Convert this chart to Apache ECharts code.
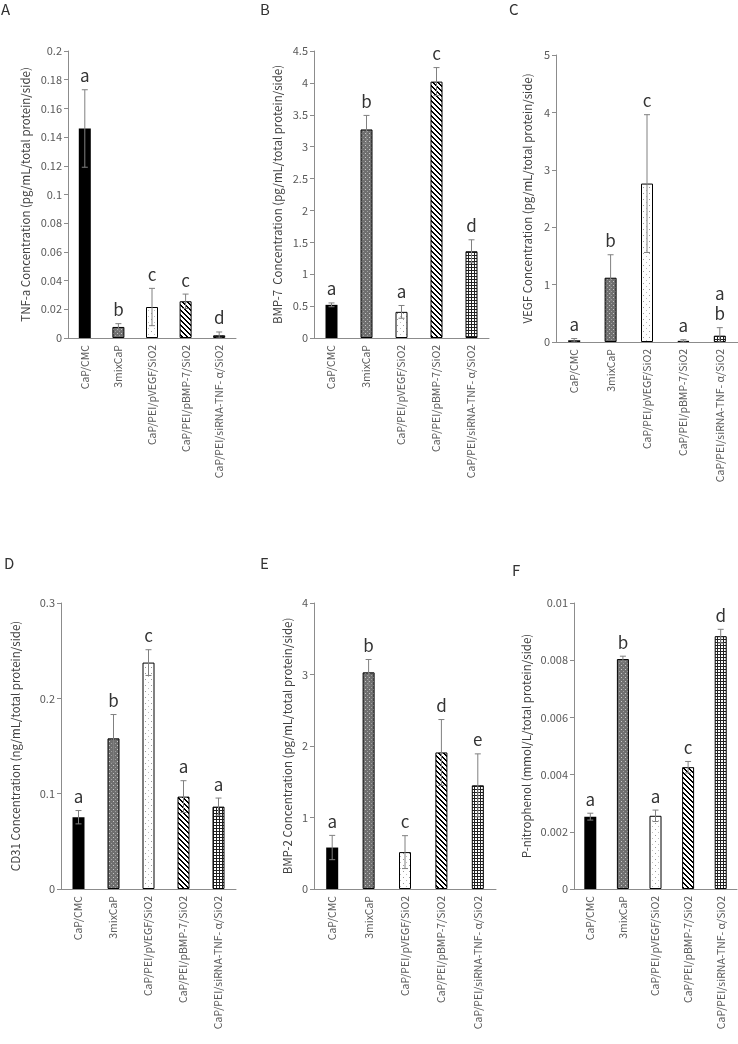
<!DOCTYPE html>
<html><head><meta charset="utf-8">
<script src="https://cdn.jsdelivr.net/npm/echarts@6/dist/echarts.min.js"></script>
<style>html,body{margin:0;padding:0;background:#fff}#c{width:738px;height:1044px}</style>
</head><body><div id="c"></div>
<script>
const categories = ["CaP/CMC", "3mixCaP", "CaP/PEI/pVEGF/SiO2", "CaP/PEI/pBMP-7/SiO2", "CaP/PEI/siRNA-TNF- α/SiO2"];

const tnfValues = [0.146, 0.0077, 0.0216, 0.0256, 0.0019];
const tnfErr = [0.027, 0.0023, 0.013, 0.005, 0.0023];
const tnfLetters = ["a", "b", "c", "c", "d"];

const bmp7Values = [0.52, 3.27, 0.41, 4.02, 1.36];
const bmp7Err = [0.03, 0.22, 0.10, 0.22, 0.18];
const bmp7Letters = ["a", "b", "a", "c", "d"];

const vegfValues = [0.03, 1.12, 2.76, 0.02, 0.11];
const vegfErr = [0.03, 0.40, 1.20, 0.02, 0.14];
const vegfLetters = ["a", "b", "c", "a", "a\nb"];

const cd31Values = [0.0753, 0.158, 0.2375, 0.0969, 0.0864];
const cd31Err = [0.007, 0.025, 0.0135, 0.0167, 0.009];
const cd31Letters = ["a", "b", "c", "a", "a"];

const bmp2Values = [0.58, 3.03, 0.516, 1.91, 1.45];
const bmp2Err = [0.17, 0.18, 0.23, 0.46, 0.44];
const bmp2Letters = ["a", "b", "c", "d", "e"];

const pnpValues = [0.00253, 0.00804, 0.00256, 0.00426, 0.00884];
const pnpErr = [0.00012, 0.0001, 0.0002, 0.0002, 0.00024];
const pnpLetters = ["a", "b", "a", "c", "d"];

const panelTitles = ["A", "B", "C", "D", "E", "F"];
const axisNames = [
  "TNF-a Concentration (pg/mL/total protein/side)",
  "BMP-7  Concentration (pg/mL/total protein/side)",
  "VEGF Concentration (pg/mL/total protein/side)",
  "CD31 Concentration (ng/mL/total protein/side)",
  "BMP-2 Concentration (pg/mL/total protein/side)",
  "P-nitrophenol (mmol/L/total protein/side)"
];
const axisMax = [0.2, 4.5, 5, 0.3, 4, 0.01];
const axisInterval = [0.02, 0.5, 1, 0.1, 1, 0.002];

const FONT = "'Noto Sans CJK JP', 'Noto Sans', sans-serif";

function makePattern(kind) {
  const c = document.createElement('canvas');
  let n = 4;
  if (kind === 'gray') n = 4;
  if (kind === 'dots') n = 6;
  if (kind === 'stripe') n = 5;
  if (kind === 'grid') n = 3;
  c.width = n; c.height = n;
  const ctx = c.getContext('2d');
  ctx.fillStyle = '#fff';
  ctx.fillRect(0, 0, n, n);
  if (kind === 'gray') {
    ctx.fillStyle = '#6f6f6f'; ctx.fillRect(0, 0, n, n);
    ctx.fillStyle = '#c8c8c8'; ctx.fillRect(1, 1, 1, 1);
    ctx.fillStyle = '#a0a0a0'; ctx.fillRect(3, 3, 1, 1);
  } else if (kind === 'dots') {
    ctx.fillStyle = '#9a9a9a'; ctx.fillRect(1, 1, 1, 1);
    ctx.fillStyle = '#bdbdbd'; ctx.fillRect(4, 4, 1, 1);
  } else if (kind === 'stripe') {
    ctx.fillStyle = '#000';
    for (let x = 0; x < n; x++) for (let y = 0; y < n; y++) {
      if (((x - y) % n + n) % n < 2) ctx.fillRect(x, y, 1, 1);
    }
  } else if (kind === 'grid') {
    ctx.fillStyle = '#222';
    ctx.fillRect(0, 0, n, 1); ctx.fillRect(0, 0, 1, n);
  }
  return { image: c, repeat: 'repeat' };
}
const fills = ['#000000', makePattern('gray'), makePattern('dots'), makePattern('stripe'), makePattern('grid')];

const panels = [
  { v: tnfValues, e: tnfErr, l: tnfLetters },
  { v: bmp7Values, e: bmp7Err, l: bmp7Letters },
  { v: vegfValues, e: vegfErr, l: vegfLetters },
  { v: cd31Values, e: cd31Err, l: cd31Letters },
  { v: bmp2Values, e: bmp2Err, l: bmp2Letters },
  { v: pnpValues, e: pnpErr, l: pnpLetters }
];

const grids = [
  { left: 68, top: 51, width: 168, height: 287 },
  { left: 314, top: 51, width: 175, height: 287 },
  { left: 556, top: 55, width: 183, height: 287 },
  { left: 61, top: 603, width: 175, height: 286 },
  { left: 314, top: 603, width: 182, height: 286 },
  { left: 574, top: 603, width: 163, height: 286 }
];
const nameGaps = [37, 31, 23, 40, 21, 42];
const titlePos = [[1, 2], [260, 2], [509, 2], [4, 556], [260, 556], [512, 563]];

const xAxes = [], yAxes = [], series = [], graphics = [];
panels.forEach((p, i) => {
  xAxes.push({
    type: 'category', gridIndex: i, data: categories,
    axisLine: { lineStyle: { color: '#8c8c8c', width: 1 } },
    axisTick: { show: false },
    axisLabel: { rotate: 90, interval: 0, margin: 7, fontSize: 10.5, color: '#595959', fontFamily: FONT }
  });
  yAxes.push({
    type: 'value', gridIndex: i, min: 0, max: axisMax[i], interval: axisInterval[i],
    name: axisNames[i], nameLocation: 'middle', nameRotate: 90, nameGap: nameGaps[i],
    nameTextStyle: { fontSize: 11.5, color: '#404040', fontFamily: FONT },
    axisLine: { show: true, lineStyle: { color: '#8c8c8c', width: 1 } },
    axisTick: { show: true, length: 4, lineStyle: { color: '#8c8c8c' } },
    splitLine: { show: false },
    axisLabel: { fontSize: 11, color: '#595959', margin: 6, fontFamily: FONT }
  });
  series.push({
    type: 'bar', xAxisIndex: i, yAxisIndex: i, barWidth: 12, animation: false,
    data: p.v.map((v, k) => ({ value: v, itemStyle: { color: fills[k], borderColor: '#000', borderWidth: k === 0 ? 0 : 1 } }))
  });
  series.push({
    type: 'custom', xAxisIndex: i, yAxisIndex: i, animation: false, z: 5,
    data: p.v.map((v, k) => [k, v, p.e[k]]),
    renderItem: function (params, api) {
      const k = api.value(0), v = api.value(1), e = api.value(2);
      const t = api.coord([k, v + e]);
      const b = api.coord([k, Math.max(v - e, 0)]);
      const hw = 3;
      const ls = { stroke: '#808080', lineWidth: 1 };
      const letter = p.l[params.dataIndex];
      return {
        type: 'group',
        children: [
          { type: 'line', shape: { x1: t[0], y1: t[1], x2: b[0], y2: b[1] }, style: ls },
          { type: 'line', shape: { x1: t[0] - hw, y1: t[1], x2: t[0] + hw, y2: t[1] }, style: ls },
          { type: 'line', shape: { x1: b[0] - hw, y1: b[1], x2: b[0] + hw, y2: b[1] }, style: ls },
          { type: 'text', x: t[0], y: t[1] - 4,
            style: { text: letter, fill: '#333', font: '17px ' + FONT, align: 'center', verticalAlign: 'bottom', lineHeight: 20 } }
        ]
      };
    }
  });
  graphics.push({ type: 'text', left: titlePos[i][0], top: titlePos[i][1],
    style: { text: panelTitles[i], fill: '#333', font: '15px ' + FONT } });
});

const chart = echarts.init(document.getElementById('c'), null, { renderer: 'canvas' });
chart.setOption({
  animation: false,
  backgroundColor: '#fff',
  grid: grids,
  xAxis: xAxes,
  yAxis: yAxes,
  series: series,
  graphic: graphics
});
</script></body></html>
